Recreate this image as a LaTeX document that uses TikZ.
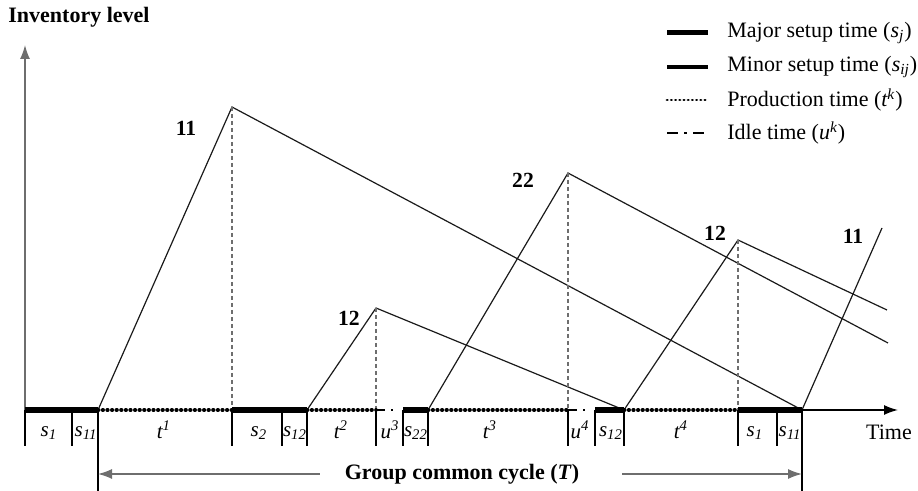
\documentclass[tikz,border=0pt]{standalone}
\usepackage{fontspec}
\setmainfont{Liberation Serif}
\usetikzlibrary{arrows.meta,positioning,calc}
\definecolor{InvGray}{HTML}{6E6E6E}
\definecolor{InvInk}{HTML}{1A1A1A}
\tikzset{
  axis/.style={-{Latex[length=7pt,width=5pt]}, line width=0.75pt},
  span/.style={-{Latex[length=7pt,width=5pt]}, line width=0.7pt, draw=InvGray},
  majorbar/.style={line width=3pt, draw=black},
  minorbar/.style={line width=2.6pt, draw=black},
  prodline/.style={line width=1.8pt, line cap=round, dash pattern=on 0.3pt off 2pt},
  idleline/.style={line width=1.1pt, dash pattern=on 4.5pt off 3pt on 1.2pt off 5pt},
  stock/.style={line width=0.6pt, draw=InvInk},
  drop/.style={line width=0.6pt, dash pattern=on 2pt off 1.5pt, draw=InvGray},
  tickline/.style={line width=0.7pt},
  lbl/.style={font=\fontsize{10.5}{12}\selectfont\itshape, inner sep=0pt},
  peaklbl/.style={font=\fontsize{10.8}{12}\selectfont\bfseries, inner sep=0pt},
  legtext/.style={anchor=west, inner sep=0pt, font=\fontsize{11}{13}\selectfont},
}
\begin{document}
\begin{tikzpicture}[x=0.5pt, y=-0.5pt, font=\fontsize{11}{13}\selectfont]
    \useasboundingbox (0,0) rectangle (918,491);
    \foreach \n/\x in {m0/25,n0/72,p1/98,m2/232,n2/282,p2/307,u3/376,n3/403,
                       p3/428,u4/568,n4/595,p4/624,m5/738,n5/777,p5/802,tend/898}
      \coordinate (\n) at (\x,410);
    \coordinate (k1) at (232,107);
    \coordinate (k2) at (376,308);
    \coordinate (k3) at (568,173);
    \coordinate (k4) at (738,240);
    \coordinate (k5) at (882,228);
    \coordinate (e3) at (888,343);
    \coordinate (e4) at (887,310);
    \coordinate (ytop) at (25,45);
    \node[font=\fontsize{11}{13}\selectfont\bfseries] (inv) at (79,17) {Inventory level};
    \draw[axis, draw=InvGray] (m0) -- (ytop);
    \draw[stock] (p1) -- (k1) -- (p5);
    \draw[stock] (p2) -- (k2) -- (p4);
    \draw[stock] (p3) -- (k3) -- (e3);
    \draw[stock] (p4) -- (k4) -- (e4);
    \draw[stock] (p5) -- (k5);
    \draw[drop] (k1) -- (m2);
    \draw[drop] (k2) -- (u3);
    \draw[drop] (k3) -- (u4);
    \draw[drop] (k4) -- (m5);
    \node[peaklbl] (pk1) at (186,128) {11};
    \node[peaklbl] (pk2) at (349,318) {12};
    \node[peaklbl] (pk3) at (523,180) {22};
    \node[peaklbl] (pk4) at (715,233) {12};
    \node[peaklbl] (pk5) at (853,236) {11};
    \draw[majorbar] (m0) -- (n0);
    \draw[minorbar] (n0) -- (p1);
    \draw[prodline] (p1) -- (m2);
    \draw[majorbar] (m2) -- (n2);
    \draw[minorbar] (n2) -- (p2);
    \draw[prodline] (p2) -- (u3);
    \draw[idleline] (u3) -- (n3);
    \draw[minorbar] (n3) -- (p3);
    \draw[prodline] (p3) -- (u4);
    \draw[idleline] (u4) -- (n4);
    \draw[minorbar] (n4) -- (p4);
    \draw[prodline] (p4) -- (m5);
    \draw[majorbar] (m5) -- (n5);
    \draw[minorbar] (n5) -- (p5);
    \draw[axis] (p5) -- (tend);
    \foreach \c in {m0,n0,m2,n2,p2,u3,n3,p3,u4,n4,p4,m5,n5}
      \draw[tickline] (\c) -- ++(0,36);
    \draw[tickline] (p1) -- ++(0,81);
    \draw[tickline] (p5) -- ++(0,81);
    \node[lbl] (ls1) at (49,433) {s\textsubscript{1}};
    \node[lbl] (ls11) at (86,433) {s\textsubscript{11}};
    \node[lbl] (lt1) at (164,430) {t\textsuperscript{1}};
    \node[lbl] (ls2) at (259,433) {s\textsubscript{2}};
    \node[lbl] (ls12) at (295,433) {s\textsubscript{12}};
    \node[lbl] (lt2) at (341,430) {t\textsuperscript{2}};
    \node[lbl] (lu3) at (390,430) {u\textsuperscript{3}};
    \node[lbl] (ls22) at (416,433) {s\textsubscript{22}};
    \node[lbl] (lt3) at (490,430) {t\textsuperscript{3}};
    \node[lbl] (lu4) at (580,430) {u\textsuperscript{4}};
    \node[lbl] (ls12b) at (611,433) {s\textsubscript{12}};
    \node[lbl] (lt4) at (681,430) {t\textsuperscript{4}};
    \node[lbl] (ls1b) at (755,433) {s\textsubscript{1}};
    \node[lbl] (ls11b) at (790,433) {s\textsubscript{11}};
    \node[inner sep=0pt] (time) at (889,432) {Time};
    \node[font=\fontsize{11}{13}\selectfont\bfseries] (cyc) at (462,474) {Group common cycle (\textit{T})};
    \coordinate (cycl) at (p1 |- cyc);
    \coordinate (cycr) at (p5 |- cyc);
    \draw[span] ([xshift=-9pt]cyc.west) -- (cycl);
    \draw[span] ([xshift=18pt]cyc.east) -- (cycr);
    \coordinate (g1a) at (667,33);  \coordinate (g1b) at (708,33);
    \coordinate (g2a) at (667,67);  \coordinate (g2b) at (708,67);
    \coordinate (g3a) at (667,100); \coordinate (g3b) at (708,100);
    \coordinate (g4a) at (667,133); \coordinate (g4b) at (708,133);
    \draw[line width=2.5pt] (g1a) -- (g1b);
    \draw[line width=1.8pt] (g2a) -- (g2b);
    \draw[line width=1.4pt, line cap=round, dash pattern=on 0.2pt off 1.9pt] (g3a) -- (g3b);
    \draw[line width=1.2pt, dash pattern=on 5.5pt off 3pt on 1.5pt off 3pt] (g4a) -- (g4b);
    \node[legtext] (leg1) at (727,33) {Major setup time (\textit{s\textsubscript{j}})};
    \node[legtext] (leg2) at (727,67) {Minor setup time (\textit{s\textsubscript{ij}})};
    \node[legtext] (leg3) at (727,100) {Production time (\textit{t\textsuperscript{k}})};
    \node[legtext] (leg4) at (727,133) {Idle time (\textit{u\textsuperscript{k}})};
\end{tikzpicture}
\end{document}
